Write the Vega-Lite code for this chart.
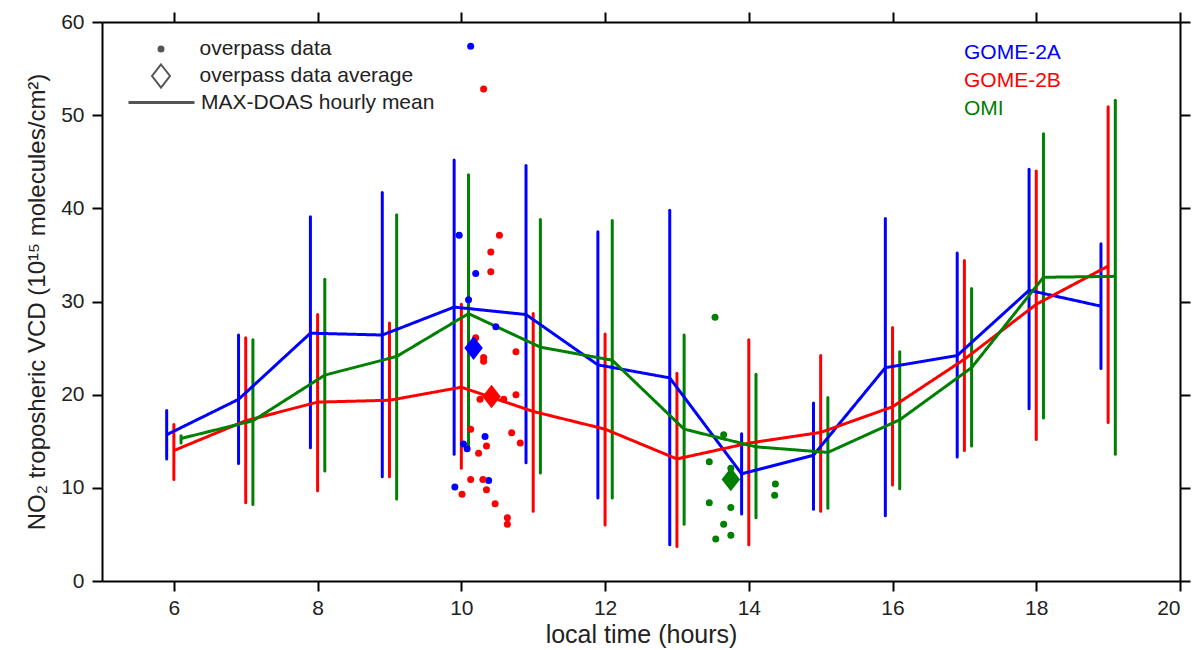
{
  "$schema": "https://vega.github.io/schema/vega-lite/v6.json",
  "width": 1078,
  "height": 559,
  "autosize": "none",
  "padding": {"left": 102, "top": 22, "right": 18, "bottom": 69},
  "background": "white",
  "config": {
    "view": {"stroke": null},
    "font": "Liberation Sans",
    "axis": {"grid": false, "domainColor": "black", "domainWidth": 2, "tickColor": "black", "tickWidth": 2, "tickSize": 10, "labelFontSize": 21, "labelColor": "#222", "titleFontWeight": "normal", "titleColor": "#222", "labelFont": "Liberation Sans", "titleFont": "Liberation Sans"},
    "legend": {"labelFont": "Liberation Sans", "labelFontSize": 21, "labelLimit": 400, "padding": 0, "title": null, "labelColor": "#222"}
  },
  "datasets": {
    "hourly": [
      {"sat": "GOME-2A", "x": 5.9, "mean": 15.7, "lo": 13.1, "hi": 18.3},
      {"sat": "GOME-2A", "x": 6.9, "mean": 19.5, "lo": 12.6, "hi": 26.4},
      {"sat": "GOME-2A", "x": 7.9, "mean": 26.6, "lo": 14.3, "hi": 39.1},
      {"sat": "GOME-2A", "x": 8.9, "mean": 26.4, "lo": 11.2, "hi": 41.7},
      {"sat": "GOME-2A", "x": 9.9, "mean": 29.4, "lo": 13.6, "hi": 45.2},
      {"sat": "GOME-2A", "x": 10.9, "mean": 28.6, "lo": 12.7, "hi": 44.6},
      {"sat": "GOME-2A", "x": 11.9, "mean": 23.2, "lo": 8.9, "hi": 37.5},
      {"sat": "GOME-2A", "x": 12.9, "mean": 21.8, "lo": 3.9, "hi": 39.8},
      {"sat": "GOME-2A", "x": 13.9, "mean": 11.5, "lo": 7.2, "hi": 15.8},
      {"sat": "GOME-2A", "x": 14.9, "mean": 13.5, "lo": 7.7, "hi": 19.1},
      {"sat": "GOME-2A", "x": 15.9, "mean": 22.9, "lo": 7.0, "hi": 38.9},
      {"sat": "GOME-2A", "x": 16.9, "mean": 24.2, "lo": 13.3, "hi": 35.2},
      {"sat": "GOME-2A", "x": 17.9, "mean": 31.2, "lo": 18.5, "hi": 44.2},
      {"sat": "GOME-2A", "x": 18.9, "mean": 29.5, "lo": 22.8, "hi": 36.2},
      {"sat": "GOME-2B", "x": 6.0, "mean": 14.0, "lo": 10.9, "hi": 16.8},
      {"sat": "GOME-2B", "x": 7.0, "mean": 17.2, "lo": 8.4, "hi": 26.1},
      {"sat": "GOME-2B", "x": 8.0, "mean": 19.2, "lo": 9.7, "hi": 28.6},
      {"sat": "GOME-2B", "x": 9.0, "mean": 19.4, "lo": 11.2, "hi": 27.7},
      {"sat": "GOME-2B", "x": 10.0, "mean": 20.8, "lo": 12.1, "hi": 29.7},
      {"sat": "GOME-2B", "x": 11.0, "mean": 18.2, "lo": 7.5, "hi": 28.7},
      {"sat": "GOME-2B", "x": 12.0, "mean": 16.3, "lo": 6.0, "hi": 26.5},
      {"sat": "GOME-2B", "x": 13.0, "mean": 13.1, "lo": 3.7, "hi": 22.3},
      {"sat": "GOME-2B", "x": 14.0, "mean": 14.8, "lo": 3.9, "hi": 25.9},
      {"sat": "GOME-2B", "x": 15.0, "mean": 15.95, "lo": 7.5, "hi": 24.2},
      {"sat": "GOME-2B", "x": 16.0, "mean": 18.7, "lo": 10.3, "hi": 27.2},
      {"sat": "GOME-2B", "x": 17.0, "mean": 23.8, "lo": 14.0, "hi": 34.4},
      {"sat": "GOME-2B", "x": 18.0, "mean": 29.7, "lo": 15.2, "hi": 44.0},
      {"sat": "GOME-2B", "x": 19.0, "mean": 33.8, "lo": 17.0, "hi": 50.9},
      {"sat": "OMI", "x": 6.1, "mean": 15.3, "lo": 14.8, "hi": 15.6},
      {"sat": "OMI", "x": 7.1, "mean": 17.2, "lo": 8.2, "hi": 25.9},
      {"sat": "OMI", "x": 8.1, "mean": 22.1, "lo": 11.8, "hi": 32.4},
      {"sat": "OMI", "x": 9.1, "mean": 24.1, "lo": 8.8, "hi": 39.3},
      {"sat": "OMI", "x": 10.1, "mean": 28.7, "lo": 14.4, "hi": 43.6},
      {"sat": "OMI", "x": 11.1, "mean": 25.1, "lo": 11.6, "hi": 38.8},
      {"sat": "OMI", "x": 12.1, "mean": 23.7, "lo": 8.9, "hi": 38.7},
      {"sat": "OMI", "x": 13.1, "mean": 16.3, "lo": 6.1, "hi": 26.4},
      {"sat": "OMI", "x": 14.1, "mean": 14.4, "lo": 6.8, "hi": 22.2},
      {"sat": "OMI", "x": 15.1, "mean": 13.8, "lo": 7.8, "hi": 19.7},
      {"sat": "OMI", "x": 16.1, "mean": 17.3, "lo": 9.9, "hi": 24.6},
      {"sat": "OMI", "x": 17.1, "mean": 22.9, "lo": 14.5, "hi": 31.4},
      {"sat": "OMI", "x": 18.1, "mean": 32.6, "lo": 17.5, "hi": 48.0},
      {"sat": "OMI", "x": 19.1, "mean": 32.7, "lo": 13.6, "hi": 51.6}
    ],
    "overpass": [
      {"sat": "GOME-2A", "t": 10.13, "v": 57.4},
      {"sat": "GOME-2A", "t": 9.97, "v": 37.1},
      {"sat": "GOME-2A", "t": 10.2, "v": 33.0},
      {"sat": "GOME-2A", "t": 10.1, "v": 30.2},
      {"sat": "GOME-2A", "t": 10.48, "v": 27.3},
      {"sat": "GOME-2A", "t": 10.33, "v": 15.5},
      {"sat": "GOME-2A", "t": 10.03, "v": 14.7},
      {"sat": "GOME-2A", "t": 10.08, "v": 14.2},
      {"sat": "GOME-2A", "t": 10.38, "v": 10.8},
      {"sat": "GOME-2A", "t": 9.91, "v": 10.1},
      {"sat": "GOME-2B", "t": 10.31, "v": 52.8},
      {"sat": "GOME-2B", "t": 10.53, "v": 37.1},
      {"sat": "GOME-2B", "t": 10.41, "v": 35.3},
      {"sat": "GOME-2B", "t": 10.41, "v": 33.2},
      {"sat": "GOME-2B", "t": 10.2, "v": 26.1},
      {"sat": "GOME-2B", "t": 10.76, "v": 24.6},
      {"sat": "GOME-2B", "t": 10.31, "v": 24.0},
      {"sat": "GOME-2B", "t": 10.31, "v": 23.6},
      {"sat": "GOME-2B", "t": 10.26, "v": 19.5},
      {"sat": "GOME-2B", "t": 10.59, "v": 19.5},
      {"sat": "GOME-2B", "t": 10.76, "v": 20.0},
      {"sat": "GOME-2B", "t": 10.13, "v": 16.3},
      {"sat": "GOME-2B", "t": 10.7, "v": 15.9},
      {"sat": "GOME-2B", "t": 10.82, "v": 14.8},
      {"sat": "GOME-2B", "t": 10.35, "v": 14.5},
      {"sat": "GOME-2B", "t": 10.24, "v": 13.7},
      {"sat": "GOME-2B", "t": 10.13, "v": 10.9},
      {"sat": "GOME-2B", "t": 10.3, "v": 10.9},
      {"sat": "GOME-2B", "t": 10.35, "v": 9.8},
      {"sat": "GOME-2B", "t": 10.01, "v": 9.3},
      {"sat": "GOME-2B", "t": 10.47, "v": 8.3},
      {"sat": "GOME-2B", "t": 10.64, "v": 6.8},
      {"sat": "GOME-2B", "t": 10.64, "v": 6.1},
      {"sat": "OMI", "t": 13.53, "v": 28.3},
      {"sat": "OMI", "t": 13.65, "v": 15.7},
      {"sat": "OMI", "t": 13.45, "v": 12.8},
      {"sat": "OMI", "t": 13.75, "v": 12.1},
      {"sat": "OMI", "t": 14.37, "v": 10.4},
      {"sat": "OMI", "t": 14.36, "v": 9.2},
      {"sat": "OMI", "t": 13.45, "v": 8.4},
      {"sat": "OMI", "t": 13.75, "v": 7.9},
      {"sat": "OMI", "t": 13.65, "v": 6.1},
      {"sat": "OMI", "t": 13.75, "v": 4.9},
      {"sat": "OMI", "t": 13.54, "v": 4.5}
    ],
    "averages": [
      {"sat": "GOME-2A", "t": 10.17, "v": 25.0},
      {"sat": "GOME-2B", "t": 10.42, "v": 19.8},
      {"sat": "OMI", "t": 13.75, "v": 10.9}
    ]
  },
  "resolve": {"axis": {"x": "independent", "y": "independent"}},
  "layer": [
    {
      "data": {"name": "hourly"},
      "mark": {"type": "rule", "strokeWidth": 3, "strokeCap": "round"},
      "encoding": {
        "x": {"field": "x", "type": "quantitative", "scale": {"domain": [5, 20], "nice": false, "zero": false},
              "axis": {"orient": "bottom", "values": [6, 8, 10, 12, 14, 16, 18, 20], "title": "local time (hours)", "titleFontSize": 25, "labelPadding": 6, "titlePadding": 4}},
        "y": {"field": "lo", "type": "quantitative", "scale": {"domain": [0, 60], "nice": false, "zero": false},
              "axis": {"orient": "left", "values": [0, 10, 20, 30, 40, 50, 60], "title": "NO₂ troposheric VCD (10¹⁵ molecules/cm²)", "titleFontSize": 24, "labelPadding": 8, "titlePadding": 11}},
        "y2": {"field": "hi"},
        "color": {"field": "sat", "type": "nominal", "scale": {"domain": ["GOME-2A", "GOME-2B", "OMI"], "range": ["#0000FF", "#FF0000", "#008000"]},
                  "legend": {"orient": "none", "legendX": 841, "legendY": 20, "symbolSize": 100, "symbolOpacity": 0, "symbolStrokeWidth": 0, "labelOffset": 0, "rowPadding": 6, "labelFontSize": 21,
                             "encode": {"labels": {"update": {"fill": {"scale": "color", "field": "value"}}}}}}
      }
    },
    {
      "data": {"name": "hourly"},
      "mark": {"type": "line", "strokeWidth": 3},
      "encoding": {
        "x": {"field": "x", "type": "quantitative", "axis": {"orient": "top", "values": [6, 8, 10, 12, 14, 16, 18, 20], "labels": false, "title": null}},
        "y": {"field": "mean", "type": "quantitative", "axis": {"orient": "right", "values": [0, 10, 20, 30, 40, 50, 60], "labels": false, "title": null}},
        "color": {"field": "sat", "type": "nominal"},
        "strokeDash": {"datum": "MAX-DOAS hourly mean", "type": "nominal", "scale": {"domain": ["MAX-DOAS hourly mean"], "range": [[1, 0]]},
                       "legend": {"orient": "none", "legendX": 25, "legendY": 46, "symbolType": "stroke", "symbolSize": 4356, "symbolStrokeColor": "#555555", "symbolStrokeWidth": 3, "labelOffset": 5, "labelFontSize": 21}}
      }
    },
    {
      "data": {"name": "overpass"},
      "mark": {"type": "point", "filled": true, "size": 49, "opacity": 1},
      "encoding": {
        "x": {"field": "t", "type": "quantitative", "axis": null},
        "y": {"field": "v", "type": "quantitative", "axis": null},
        "color": {"field": "sat", "type": "nominal"},
        "shape": {"datum": "overpass data", "type": "nominal",
                  "scale": {"domain": ["overpass data"], "range": ["circle"]},
                  "legend": {"orient": "none", "legendX": 48.5, "legendY": 16.5, "symbolSize": 49, "symbolFillColor": "#555555", "symbolStrokeWidth": 0, "labelOffset": 28, "labelFontSize": 21}}
      }
    },
    {
      "data": {"name": "averages"},
      "mark": {"type": "point", "filled": true, "size": 560, "shape": "M0,-1L0.78,0L0,1L-0.78,0Z"},
      "encoding": {
        "x": {"field": "t", "type": "quantitative", "axis": null},
        "y": {"field": "v", "type": "quantitative", "axis": null},
        "color": {"field": "sat", "type": "nominal"},
        "opacity": {"datum": "overpass data average", "type": "ordinal",
                    "scale": {"domain": ["overpass data average"], "range": [1]},
                    "legend": {"orient": "none", "legendX": 46.5, "legendY": 41.5, "symbolType": "M0,-1L0.78,0L0,1L-0.78,0Z", "symbolSize": 529, "symbolFillColor": "transparent", "symbolStrokeColor": "#555555", "symbolStrokeWidth": 2, "labelOffset": 26, "labelFontSize": 21}}
      }
    }
  ]
}
